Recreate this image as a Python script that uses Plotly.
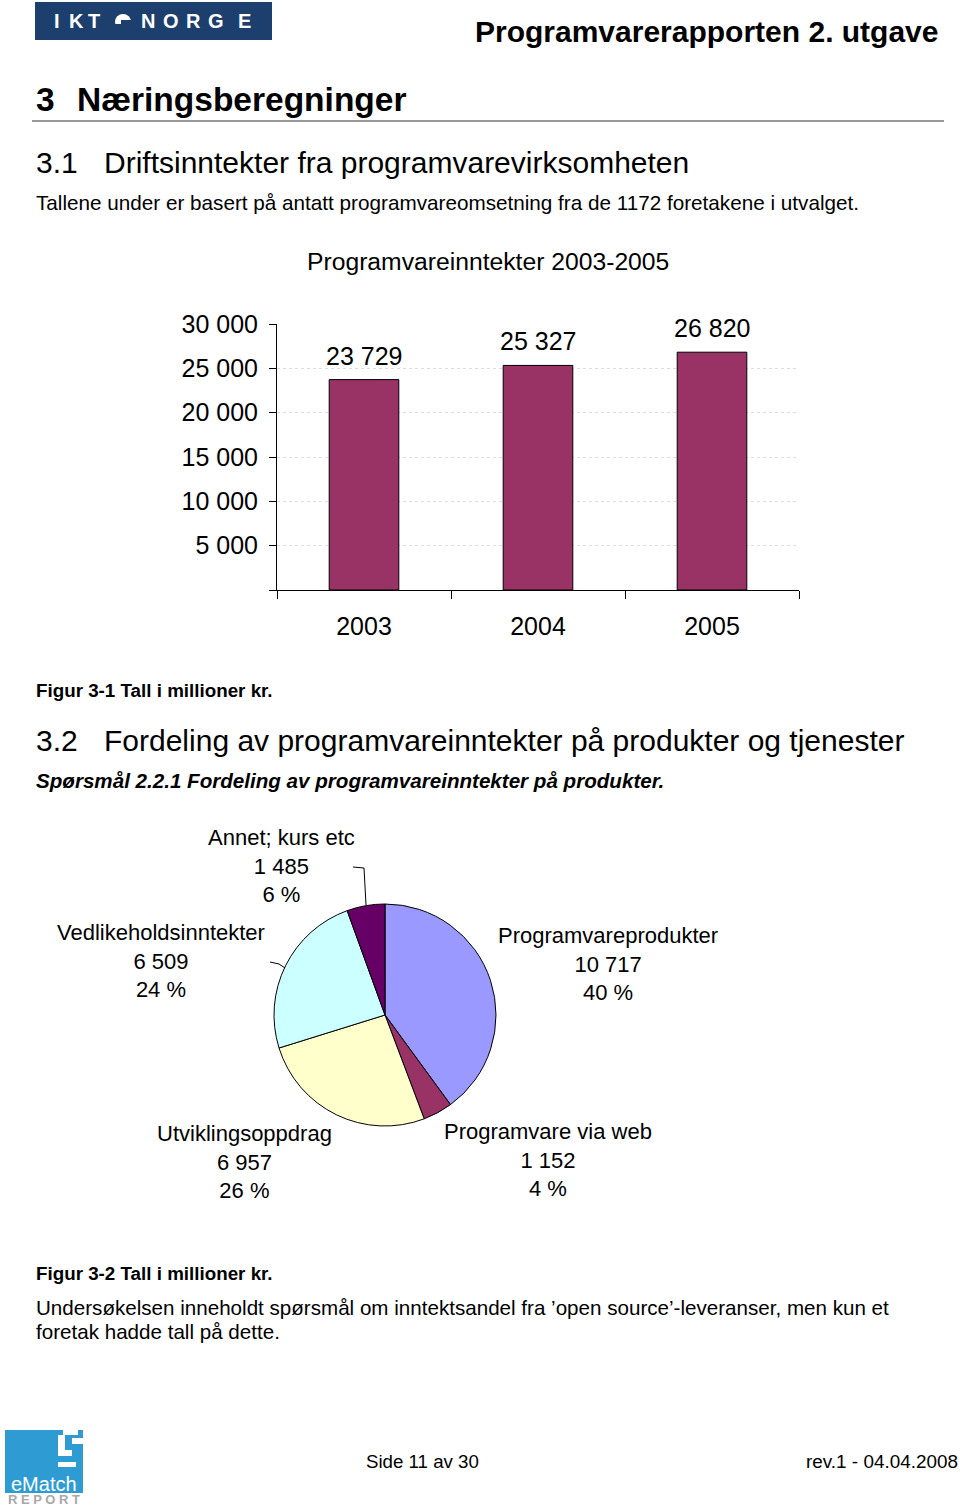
import plotly.graph_objects as go

# ---------------- data ----------------
years = ["2003", "2004", "2005"]
revenue = [23729, 25327, 26820]
y_tick_vals = [0, 5000, 10000, 15000, 20000, 25000, 30000]
y_tick_text = ["", "5 000", "10 000", "15 000", "20 000", "25 000", "30 000"]

pie_labels = ["Programvareprodukter", "Programvare via web", "Utviklingsoppdrag",
              "Vedlikeholdsinntekter", "Annet; kurs etc"]
pie_values = [10717, 1152, 6957, 6509, 1485]
pie_colors = ["#9999FF", "#993366", "#FFFFCC", "#CCFFFF", "#660066"]

W, H = 960, 1506
FONT = "Liberation Sans, Arial, sans-serif"


def px(x):
    return x / W


def py(y):
    return 1 - y / H


def fmt(v):
    return f"{v:,}".replace(",", " ")


annotations = []
shapes = []


def ann(text, x, y, size, xanchor="left", bold=False, italic=False, color="black",
        family=FONT):
    annotations.append(dict(
        text=text, x=px(x), y=py(y), xref="paper", yref="paper",
        xanchor=xanchor, yanchor="middle", showarrow=False, align="center",
        font=dict(size=size, color=color, family=family,
                  weight="bold" if bold else "normal",
                  style="italic" if italic else "normal"),
        borderpad=0))


def rect(x0, y0, x1, y1, color, line=None):
    shapes.append(dict(type="rect", xref="paper", yref="paper",
                       x0=px(x0), x1=px(x1), y0=py(y1), y1=py(y0),
                       fillcolor=color, line=dict(width=0) if line is None else line,
                       layer="above"))


def path(points, color="black", width=1):
    d = "M " + " L ".join(f"{px(a)},{py(b)}" for a, b in points)
    shapes.append(dict(type="path", xref="paper", yref="paper", path=d,
                       line=dict(color=color, width=width), layer="above"))


fig = go.Figure()

# ---------------- bar chart ----------------
fig.add_trace(go.Bar(
    x=years, y=revenue, width=0.4,
    marker=dict(color="#993366", line=dict(color="black", width=1)),
    xaxis="x", yaxis="y", showlegend=False, hoverinfo="skip"))

for i, v in enumerate(revenue):
    annotations.append(dict(
        text=fmt(v), x=i, y=v, xref="x", yref="y", showarrow=False,
        xanchor="center", yanchor="middle", yshift=24,
        font=dict(size=25, color="black", family=FONT)))

# ---------------- pie chart ----------------
fig.add_trace(go.Pie(
    labels=pie_labels, values=pie_values, sort=False, direction="clockwise",
    rotation=0, textinfo="none", hoverinfo="skip", showlegend=False,
    marker=dict(colors=pie_colors, line=dict(color="black", width=1)),
    domain=dict(x=[px(274), px(496)], y=[py(1126), py(904)])))

total = sum(pie_values)
label_pos = {  # centre x, middle-line y (pixels)
    "Programvareprodukter": (608, 964),
    "Programvare via web": (548, 1160),
    "Utviklingsoppdrag": (245, 1162),
    "Vedlikeholdsinntekter": (161, 961),
    "Annet; kurs etc": (281, 866),
}
for lab, v in zip(pie_labels, pie_values):
    cx, cy = label_pos[lab]
    pct = round(v / total * 100)
    ann(f"{lab}<br>{fmt(v)}<br>{pct} %", cx, cy, 22, xanchor="center")

# leader lines
path([(353, 867), (364, 868), (366, 905)])
path([(270, 962), (279, 964), (285, 968)])

# ---------------- page furniture ----------------
# IKT Norge logo
rect(35, 2, 272, 40, "#1c3f6e")
for ch, x in zip("IKTNORGE", [57, 76, 94, 148, 171, 193, 216, 245]):
    ann(ch, x, 21, 20, xanchor="center", bold=True, color="white")
shapes.append(dict(type="circle", xref="paper", yref="paper",
                   x0=px(115), x1=px(131), y0=py(30), y1=py(14),
                   fillcolor="white", line=dict(width=0), layer="above"))
rect(114, 24, 132, 31, "#1c3f6e")
rect(121, 20, 132, 24, "#1c3f6e")

ann("Programvarerapporten 2. utgave", 940, 32, 30, xanchor="right", bold=True)

ann("3", 35, 100, 33.5, bold=True)
ann("Næringsberegninger", 76, 100, 33.5, bold=True)
shapes.append(dict(type="line", xref="paper", yref="paper",
                   x0=px(32), x1=px(944), y0=py(121), y1=py(121),
                   line=dict(color="#333333", width=1)))

ann("3.1", 35, 162, 30)
ann("Driftsinntekter fra programvarevirksomheten", 103, 162, 30)
ann("Tallene under er basert på antatt programvareomsetning fra de 1172 foretakene i utvalget.",
    35, 202, 20.7)
ann("Programvareinntekter 2003-2005", 488, 261, 24.7, xanchor="center")

ann("Figur 3-1 Tall i millioner kr.", 35, 690, 18.8, bold=True)
ann("3.2", 35, 740, 30)
ann("Fordeling av programvareinntekter på produkter og tjenester", 103, 740, 30)
ann("Spørsmål 2.2.1 Fordeling av programvareinntekter på produkter.", 35, 780, 20.6,
    bold=True, italic=True)

ann("Figur 3-2 Tall i millioner kr.", 35, 1273, 18.8, bold=True)
ann("Undersøkelsen inneholdt spørsmål om inntektsandel fra ’open source’-leveranser, men kun et",
    35, 1307, 20.6)
ann("foretak hadde tall på dette.", 35, 1331, 20.6)

# footer
ann("Side 11 av 30", 365, 1461, 18.7)
ann("rev.1 - 04.04.2008", 959, 1461, 18.9, xanchor="right")

# eMatch logo
rect(5, 1430, 83, 1493, "#2e9bd3")
rect(63, 1430, 78, 1435, "white")
rect(58, 1435, 65, 1450, "white")
rect(72, 1438, 83, 1444, "white")
rect(58, 1450, 72, 1456, "white")
rect(58, 1462, 76, 1467, "white")
ann("eMatch", 44, 1484, 20, xanchor="center", color="white")
ann("R E P O R T", 44, 1499, 13, xanchor="center", bold=True, color="#a8a8a8")

fig.update_layout(
    width=W, height=H,
    margin=dict(l=0, r=0, t=0, b=0, pad=0, autoexpand=False),
    paper_bgcolor="white", plot_bgcolor="white",
    font=dict(family=FONT, color="black"),
    showlegend=False,
    xaxis=dict(domain=[px(277), px(799)], type="category", range=[-0.5, 2.5],
               showline=True, linecolor="black", linewidth=1, ticks="outside",
               ticklen=8, tickcolor="black", tickson="boundaries", showgrid=False,
               tickfont=dict(size=25, family=FONT, color="black"),
               ticklabelstandoff=14, fixedrange=True, anchor="y", automargin=False),
    yaxis=dict(domain=[py(590), py(324)], range=[0, 30000], showline=True,
               linecolor="black", linewidth=1, ticks="outside", ticklen=7,
               tickcolor="black", tickvals=y_tick_vals, ticktext=y_tick_text,
               showgrid=True, gridcolor="#dddddd", griddash="dot", gridwidth=1,
               zeroline=False, tickfont=dict(size=25, family=FONT, color="black"),
               ticklabelstandoff=6, fixedrange=True, anchor="x", automargin=False),
    annotations=annotations, shapes=shapes,
)

fig.write_html(
    "out.html",
    config={"displayModeBar": False, "staticPlot": True},
    post_script=(
        "document.body.style.margin='0px';"
        "document.body.style.overflow='hidden';"
        "var d=document.getElementById('{plot_id}');"
        "d.style.position='absolute';d.style.top='0px';d.style.left='0px';"
    ),
)
